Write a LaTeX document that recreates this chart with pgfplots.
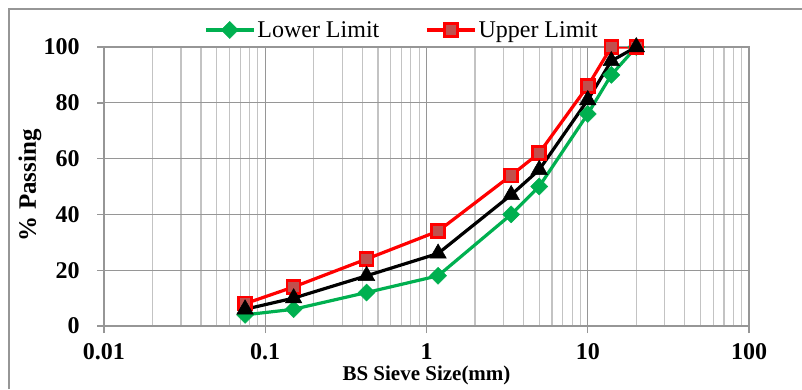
\documentclass[border=0pt]{standalone}
\usepackage{fontspec}
\setmainfont{Liberation Serif}
\usepackage{pgfplots}
\pgfplotsset{compat=1.18}
\definecolor{lgreen}{RGB}{0,176,80}
\definecolor{sqfill}{RGB}{192,80,77}
\definecolor{gridmaj}{RGB}{150,150,150}
\definecolor{gridmin}{RGB}{195,195,195}
\begin{document}
\begin{tikzpicture}
\useasboundingbox (0pt,0pt) rectangle (802pt,389pt);
\draw[gridmaj, line width=1.2pt] (9pt,0pt) -- (9pt,380pt) -- (802pt,380pt);
\begin{axis}[
  at={(104pt,63pt)}, anchor=south west,
  scale only axis, width=645pt, height=279pt,
  xmode=log, xmin=0.01, xmax=100, ymin=0, ymax=100,
  xtick={0.01,0.1,1,10,100},
  xticklabels={0.01,0.1,1,10,100},
  ytick={0,20,40,60,80,100},
  minor y tick num=0,
  grid=both,
  major grid style={gridmaj, line width=1.2pt},
  minor grid style={gridmin, line width=1.2pt},
  axis line style={gridmaj, line width=1.4pt},
  tick style={gridmaj, line width=1.4pt},
  tick align=outside,
  major tick length=7pt, minor tick length=0pt,
  xtick pos=bottom, ytick pos=left,
  /pgf/number format/assume math mode=true,
  ticklabel style={font=\bfseries\fontsize{24}{24}\selectfont},
  xticklabel style={yshift=-7pt},
  yticklabel style={xshift=-14pt},
  xlabel={BS Sieve Size(mm)},
  ylabel={\% Passing},
  xlabel style={font=\bfseries\fontsize{21}{21}\selectfont, at={(rel axis cs:0.5,-0.178)}, anchor=center},
  ylabel style={font=\bfseries\fontsize{25}{25}\selectfont, at={(rel axis cs:-0.1147,0.505)}, anchor=center},
  legend columns=2,
  legend style={at={(rel axis cs:0.462,1.061)}, anchor=center, draw=none, fill=none,
    font=\fontsize{24}{24}\selectfont, inner sep=0pt,
    /tikz/every even column/.append style={column sep=44pt}},
  legend image code/.code={\draw[mark repeat=2,mark phase=2,#1] plot coordinates {(0pt,0pt) (24pt,0pt) (48pt,0pt)};},
]
\addplot[color=lgreen, line width=3.2pt, mark=square*, mark size=6pt, mark options={solid, rotate=45, fill=lgreen, draw=lgreen, line width=0.5pt}]
 coordinates {(0.075,4) (0.15,6) (0.425,12) (1.18,18) (3.35,40) (5,50) (10,76) (14,90) (20,100)};
\addlegendentry{Lower Limit}
\addplot[color=red, line width=3.2pt, mark=square*, mark size=6.5pt, mark options={solid, fill=sqfill, draw=red, line width=2.5pt}]
 coordinates {(0.075,8) (0.15,14) (0.425,24) (1.18,34) (3.35,54) (5,62) (10,86) (14,100) (20,100)};
\addlegendentry{Upper Limit}
\addplot[forget plot, color=black, line width=3.2pt, mark=triangle*, mark size=9.5pt, mark options={solid, fill=black, line width=0.5pt}]
 coordinates {(0.075,6) (0.15,10) (0.425,18) (1.18,26) (3.35,47) (5,56) (10,81) (14,95) (20,100)};
\end{axis}
\end{tikzpicture}
\end{document}
